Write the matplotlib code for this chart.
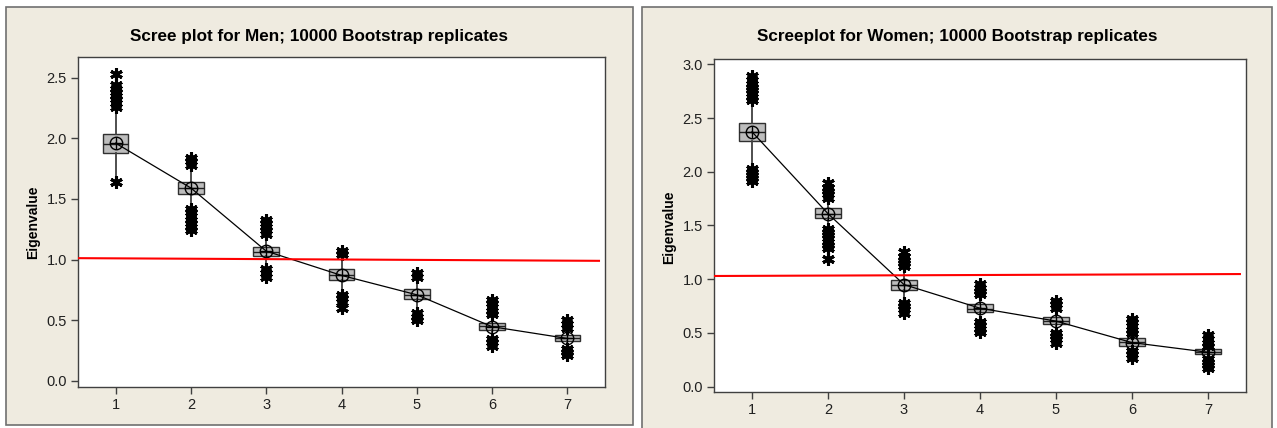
#!/usr/bin/env python3
# Scree plots with bootstrap boxplots, men and women side by side

import numpy as np
import matplotlib.pyplot as plt
from matplotlib.patches import Rectangle

#%% data
components = [1, 2, 3, 4, 5, 6, 7]

menMean   = [1.96, 1.59, 1.07, 0.87, 0.71, 0.447, 0.35]
menMed    = [1.955, 1.59, 1.06, 0.872, 0.712, 0.45, 0.355]
menQ1     = [1.878, 1.54, 1.026, 0.828, 0.674, 0.42, 0.33]
menQ3     = [2.035, 1.636, 1.108, 0.92, 0.757, 0.476, 0.38]
menWhisLo = [1.685, 1.44, 0.94, 0.73, 0.58, 0.355, 0.275]
menWhisHi = [2.25, 1.76, 1.19, 1.03, 0.84, 0.54, 0.43]
menFliers = [
    [1.636, 2.26, 2.29, 2.32, 2.35, 2.38, 2.41, 2.44, 2.53],
    [1.24, 1.27, 1.30, 1.33, 1.36, 1.39, 1.42, 1.78, 1.81, 1.84],
    [0.86, 0.89, 0.92, 1.21, 1.24, 1.27, 1.30, 1.33],
    [0.60, 0.65, 0.68, 0.71, 1.05, 1.07],
    [0.50, 0.53, 0.56, 0.86, 0.89],
    [0.29, 0.32, 0.345, 0.55, 0.58, 0.61, 0.64, 0.665],
    [0.21, 0.24, 0.265, 0.44, 0.47, 0.50],
]
menCut = [1.012, 0.99]

womMean   = [2.372, 1.61, 0.95, 0.73, 0.61, 0.41, 0.32]
womMed    = [2.372, 1.61, 0.946, 0.727, 0.615, 0.415, 0.325]
womQ1     = [2.288, 1.566, 0.90, 0.692, 0.583, 0.381, 0.304]
womQ3     = [2.456, 1.662, 0.993, 0.766, 0.651, 0.45, 0.35]
womWhisLo = [2.05, 1.48, 0.78, 0.61, 0.50, 0.34, 0.27]
womWhisHi = [2.66, 1.75, 1.11, 0.85, 0.73, 0.50, 0.37]
womFliers = [
    [1.91, 1.94, 1.97, 2.00, 2.03, 2.67, 2.70, 2.73, 2.76, 2.79, 2.82, 2.85, 2.89],
    [1.185, 1.29, 1.32, 1.35, 1.38, 1.41, 1.44, 1.47, 1.76, 1.79, 1.82, 1.85, 1.90],
    [0.69, 0.72, 0.75, 0.775, 1.12, 1.15, 1.18, 1.21, 1.25],
    [0.51, 0.54, 0.57, 0.60, 0.86, 0.89, 0.92, 0.96],
    [0.41, 0.44, 0.47, 0.50, 0.735, 0.765, 0.80],
    [0.27, 0.30, 0.335, 0.50, 0.53, 0.56, 0.60, 0.63],
    [0.17, 0.20, 0.23, 0.26, 0.38, 0.41, 0.44, 0.48],
]
womCut = [1.03, 1.048]

#%%
W, H = 1277, 428
bg   = '#efebe0'
font = 'Liberation Sans'

def px(x0, y0, x1, y1):
    # pixel box (top-left origin) -> figure fraction rect
    return [x0 / W, 1 - y1 / H, (x1 - x0) / W, (y1 - y0) / H]

def drawPanel(fig, rect, axRect, title, mean, med, q1, q3, lo, hi, fliers,
              cut, ylim, yticks, ylabY):
    r = px(*rect)
    fig.patches.append(Rectangle((r[0], r[1]), r[2], r[3], transform=fig.transFigure,
                                 facecolor=bg, edgecolor='#707070', lw=1.2, zorder=-5))
    fig.text(r[0] + r[2] / 2, 1 - 37 / H, title, ha='center', va='center',
             fontsize=12.3, fontweight='bold', family=font)
    fig.text(r[0] + 27 / W, ylabY, 'Eigenvalue', rotation=90, ha='center',
             va='center', fontsize=10, fontweight='bold', family=font)

    ax = fig.add_axes(px(*axRect))
    ax.set_facecolor('white')
    stats = []
    for i in range(len(components)):
        stats.append(dict(med=med[i], q1=q1[i], q3=q3[i], whislo=lo[i],
                          whishi=hi[i], fliers=fliers[i]))
    ax.bxp(stats, positions=components, widths=0.34, patch_artist=True,
           showcaps=False,
           boxprops=dict(facecolor='#bdbdbd', edgecolor='#303030', lw=1.0),
           medianprops=dict(color='#202020', lw=1.0),
           whiskerprops=dict(color='#404040', lw=1.3),
           flierprops=dict(marker=(6, 2, 0), markersize=9, markeredgewidth=2.2,
                           markeredgecolor='black', linestyle='none'))
    ax.plot(components, mean, color='black', lw=0.9, zorder=4)
    ax.plot(components, mean, 'o', ms=9, mfc='none', mec='black', mew=1.0, zorder=5)
    ax.plot(components, mean, '+', ms=9, mec='black', mew=1.0, zorder=5)
    ax.plot([0.5, 7.42], cut, color='red', lw=1.5, zorder=6)

    ax.set_xlim(0.5, 7.5)
    ax.set_ylim(*ylim)
    ax.set_xticks(components)
    ax.set_yticks(yticks)
    ax.set_yticklabels(['{:.1f}'.format(t) for t in yticks])
    for s in ax.spines.values():
        s.set_color('#404040')
        s.set_linewidth(1.0)
    ax.tick_params(direction='out', length=5, width=1, color='#404040',
                   labelsize=10.5, labelcolor='#202020', pad=3)
    for lab in ax.get_xticklabels() + ax.get_yticklabels():
        lab.set_family(font)
    return ax

fig = plt.figure(figsize=(W / 100, H / 100), dpi=100, facecolor='white')

drawPanel(fig, (6, 7, 633, 425), (78, 57, 605, 387),
          'Scree plot for Men; 10000 Bootstrap replicates',
          menMean, menMed, menQ1, menQ3, menWhisLo, menWhisHi, menFliers,
          menCut, (-0.05, 2.67), [0.0, 0.5, 1.0, 1.5, 2.0, 2.5], 1 - 222 / H)

drawPanel(fig, (642, 7, 1272, 440), (714, 59, 1246, 392),
          'Screeplot for Women; 10000 Bootstrap replicates',
          womMean, womMed, womQ1, womQ3, womWhisLo, womWhisHi, womFliers,
          womCut, (-0.05, 3.05), [0.0, 0.5, 1.0, 1.5, 2.0, 2.5, 3.0], 1 - 227 / H)

fig.savefig('out.png', dpi=100, facecolor='white')
